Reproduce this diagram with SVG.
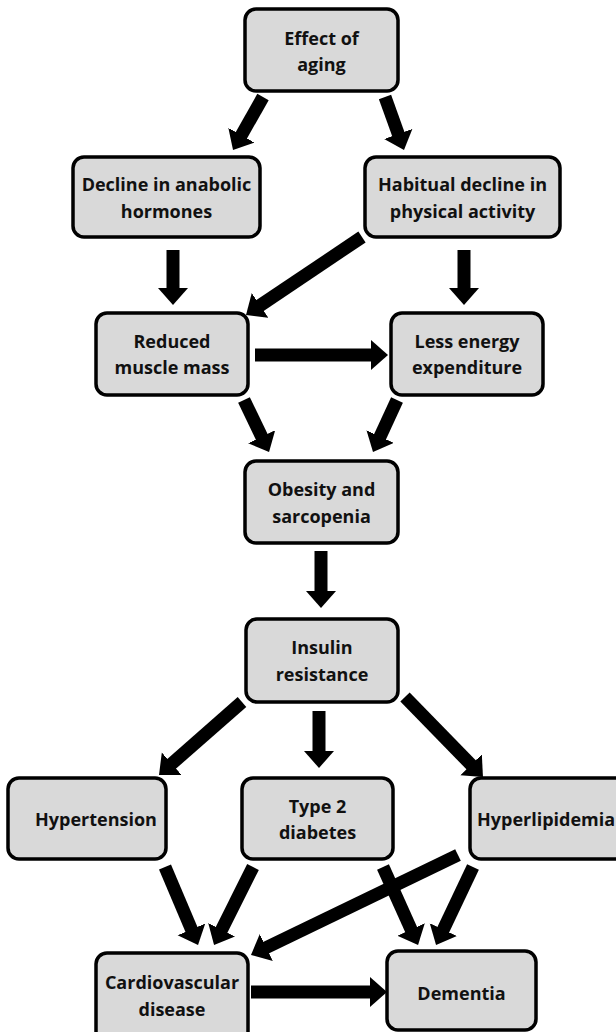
<svg xmlns="http://www.w3.org/2000/svg" width="616" height="1032" viewBox="0 0 616 1032">
<style>
.box{fill:#d9d9d9;stroke:#000;stroke-width:3.5}
.t{font-family:"Open Sans","Liberation Sans",sans-serif;font-weight:700;font-size:18px;fill:#111;text-anchor:middle}
.a{stroke:#000;stroke-width:13;fill:none;marker-end:url(#h)}
</style>
<defs>
<marker id="h" markerUnits="userSpaceOnUse" markerWidth="18" markerHeight="32" refX="1" refY="15" orient="auto" viewBox="0 0 18 32">
<path d="M0,0 L17,15 L0,30 Z" fill="#000"/>
</marker>
</defs>
<rect width="616" height="1032" fill="#fff"/>
<g id="connectors">
<line class="a" x1="263" y1="97" x2="240.9" y2="136.1"/>
<line class="a" x1="385" y1="97" x2="398.6" y2="134.9"/>
<line class="a" x1="173" y1="250" x2="173" y2="289"/>
<line class="a" x1="464" y1="250" x2="464" y2="289"/>
<line class="a" x1="362" y1="237" x2="259.3" y2="306"/>
<line class="a" x1="255" y1="355" x2="372" y2="355"/>
<line class="a" x1="244" y1="400" x2="262.1" y2="437.6"/>
<line class="a" x1="397" y1="400" x2="379.7" y2="437.5"/>
<line class="a" x1="321" y1="551" x2="321" y2="592"/>
<line class="a" x1="242" y1="702" x2="171" y2="764.4"/>
<line class="a" x1="319" y1="711" x2="319" y2="752"/>
<line class="a" x1="405" y1="697" x2="471.8" y2="765.5"/>
<line class="a" x1="165" y1="867" x2="191.8" y2="930.3"/>
<line class="a" x1="253" y1="867" x2="221.2" y2="930.7"/>
<line class="a" x1="458" y1="855" x2="265.4" y2="948"/>
<line class="a" x1="383" y1="867" x2="411.5" y2="930.4"/>
<line class="a" x1="473" y1="867" x2="442.9" y2="930.5"/>
<line class="a" x1="251" y1="992" x2="371" y2="992"/>
</g>
<g id="effect"><rect class="box" x="245" y="9" width="153" height="82" rx="11"/><text class="t" x="321.5" y="45">Effect of</text><text class="t" x="321.5" y="71">aging</text></g>
<g id="decline"><rect class="box" x="73" y="157" width="187" height="80" rx="11"/><text class="t" x="166.5" y="191">Decline in anabolic</text><text class="t" x="166.5" y="218">hormones</text></g>
<g id="habitual"><rect class="box" x="365" y="157" width="195" height="80" rx="11"/><text class="t" x="462.5" y="191">Habitual decline in</text><text class="t" x="462.5" y="218">physical activity</text></g>
<g id="reduced"><rect class="box" x="96" y="313" width="152" height="82" rx="11"/><text class="t" x="172" y="348">Reduced</text><text class="t" x="172" y="374">muscle mass</text></g>
<g id="less"><rect class="box" x="391" y="313" width="152" height="82" rx="11"/><text class="t" x="467" y="348">Less energy</text><text class="t" x="467" y="374">expenditure</text></g>
<g id="obesity"><rect class="box" x="245" y="461" width="153" height="82" rx="11"/><text class="t" x="321.5" y="496">Obesity and</text><text class="t" x="321.5" y="523">sarcopenia</text></g>
<g id="insulin"><rect class="box" x="246" y="619" width="152" height="83" rx="11"/><text class="t" x="322" y="654">Insulin</text><text class="t" x="322" y="681">resistance</text></g>
<g id="hypertension"><rect class="box" x="8" y="778" width="158" height="81" rx="11"/><text class="t" x="96" y="826">Hypertension</text></g>
<g id="diabetes"><rect class="box" x="242" y="778" width="151" height="81" rx="11"/><text class="t" x="317.5" y="813">Type 2</text><text class="t" x="317.5" y="839">diabetes</text></g>
<g id="hyperlipidemia"><rect class="box" x="470" y="778" width="170" height="81" rx="11"/><text class="t" x="477" y="826" style="text-anchor:start">Hyperlipidemia</text></g>
<g id="cardio"><rect class="box" x="96" y="953" width="152" height="92" rx="11"/><text class="t" x="172" y="989">Cardiovascular</text><text class="t" x="172" y="1016">disease</text></g>
<g id="dementia"><rect class="box" x="387" y="951" width="149" height="79" rx="11"/><text class="t" x="461.5" y="1000">Dementia</text></g>
</svg>
